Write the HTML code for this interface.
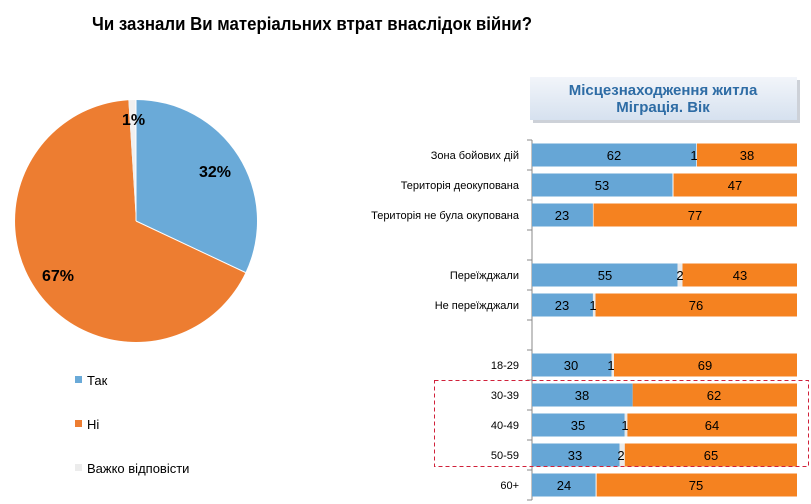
<!DOCTYPE html>
<html><head><meta charset="utf-8"><style>
body{margin:0;background:#fff;}
svg{display:block;font-family:"Liberation Sans",sans-serif;}
</style></head><body>
<svg width="811" height="504" viewBox="0 0 811 504" xmlns="http://www.w3.org/2000/svg">
<defs>
<linearGradient id="g" x1="0" y1="0" x2="0" y2="1"><stop offset="0" stop-color="#f2f5fa"/><stop offset="1" stop-color="#d6e1ef"/></linearGradient>
</defs>
<text x="92" y="30" font-size="18" font-weight="bold" fill="#000" textLength="440" lengthAdjust="spacingAndGlyphs">Чи зазнали Ви матеріальних втрат внаслідок війни?</text>
<!-- pie -->
<path d="M136,221 L136,100 A121,121 0 0 1 245.5,272.5 Z" fill="#6aaad8"/>
<path d="M136,221 L245.5,272.5 A121,121 0 1 1 128.4,100.2 Z" fill="#ed7d31"/>
<path d="M136,221 L128.4,100.2 A121,121 0 0 1 136,100 Z" fill="#f0f0f0"/>
<line x1="136" y1="221" x2="136" y2="100" stroke="#fff" stroke-width="1"/>
<line x1="136" y1="221" x2="245.5" y2="272.5" stroke="#fff" stroke-width="1"/>
<text x="122" y="125" font-size="16" font-weight="bold">1%</text>
<text x="199" y="177" font-size="16" font-weight="bold">32%</text>
<text x="42" y="281" font-size="16" font-weight="bold">67%</text>
<!-- legend -->
<rect x="75" y="376" width="7" height="7" fill="#6aaad8"/><text x="87" y="385" font-size="13">Так</text>
<rect x="75" y="420" width="7" height="7" fill="#ed7d31"/><text x="87" y="429" font-size="13">Ні</text>
<rect x="75" y="464" width="7" height="7" fill="#ececec"/><text x="87" y="473" font-size="13">Важко відповісти</text>
<!-- title box -->
<rect x="533" y="80" width="267" height="43" fill="#b8bec8" opacity="0.7"/>
<rect x="530" y="77" width="267" height="43" fill="url(#g)"/>
<text x="663" y="95" font-size="15" font-weight="bold" fill="#2e6ca5" text-anchor="middle">Місцезнаходження житла</text>
<text x="663" y="112" font-size="15" font-weight="bold" fill="#2e6ca5" text-anchor="middle">Міграція. Вік</text>
<!-- axis -->
<line x1="532" y1="140" x2="532" y2="500" stroke="#888" stroke-width="1"/>
<g stroke="#888"><line x1="527" y1="140" x2="532" y2="140"/><line x1="527" y1="170" x2="532" y2="170"/><line x1="527" y1="200" x2="532" y2="200"/><line x1="527" y1="230" x2="532" y2="230"/><line x1="527" y1="260" x2="532" y2="260"/><line x1="527" y1="290" x2="532" y2="290"/><line x1="527" y1="320" x2="532" y2="320"/><line x1="527" y1="350" x2="532" y2="350"/><line x1="527" y1="380" x2="532" y2="380"/><line x1="527" y1="410" x2="532" y2="410"/><line x1="527" y1="440" x2="532" y2="440"/><line x1="527" y1="470" x2="532" y2="470"/><line x1="527" y1="500" x2="532" y2="500"/></g>
<g font-size="11" fill="#000" text-anchor="end">
<text x="519" y="159">Зона бойових дій</text>
<text x="519" y="189">Територія деокупована</text>
<text x="519" y="219">Територія не була окупована</text>
<text x="519" y="279">Переїжджали</text>
<text x="519" y="309">Не переїжджали</text>
<text x="519" y="369">18-29</text>
<text x="519" y="399">30-39</text>
<text x="519" y="429">40-49</text>
<text x="519" y="459">50-59</text>
<text x="519" y="489">60+</text>
</g>
<g font-size="13" text-anchor="middle" fill="#000">
<rect x="532" y="143.5" width="164.3" height="23" fill="#66a6d6"/><rect x="696.3" y="143.5" width="2.7" height="23" fill="#eaeaea"/><rect x="697" y="143.5" width="100" height="23" fill="#f58220"/>
<text x="614" y="160">62</text><text x="694" y="160">1</text><text x="747" y="160">38</text>
<rect x="532" y="173.5" width="140.5" height="23" fill="#66a6d6"/><rect x="673.5" y="173.5" width="123.5" height="23" fill="#f58220"/>
<text x="602" y="190">53</text><text x="735" y="190">47</text>
<rect x="532" y="203.5" width="60.9" height="23" fill="#66a6d6"/><rect x="593.5" y="203.5" width="203.5" height="23" fill="#f58220"/>
<text x="562" y="220">23</text><text x="695" y="220">77</text>
<rect x="532" y="263.5" width="145.5" height="23" fill="#66a6d6"/><rect x="677.5" y="263.5" width="5" height="23" fill="#eaeaea"/><rect x="682.5" y="263.5" width="114.5" height="23" fill="#f58220"/>
<text x="605" y="280">55</text><text x="680" y="280">2</text><text x="740" y="280">43</text>
<rect x="532" y="293.5" width="60.9" height="23" fill="#66a6d6"/><rect x="593" y="293.5" width="2.5" height="23" fill="#eaeaea"/><rect x="595.5" y="293.5" width="201.5" height="23" fill="#f58220"/>
<text x="562" y="310">23</text><text x="593" y="310">1</text><text x="696" y="310">76</text>
<rect x="532" y="353.5" width="79.5" height="23" fill="#66a6d6"/><rect x="611.5" y="353.5" width="2.5" height="23" fill="#eaeaea"/><rect x="614" y="353.5" width="183" height="23" fill="#f58220"/>
<text x="571" y="370">30</text><text x="611" y="370">1</text><text x="705" y="370">69</text>
<rect x="532" y="383.5" width="100.7" height="23" fill="#66a6d6"/><rect x="632.7" y="383.5" width="164.3" height="23" fill="#f58220"/>
<text x="582" y="400">38</text><text x="714" y="400">62</text>
<rect x="532" y="413.5" width="92.7" height="23" fill="#66a6d6"/><rect x="624.7" y="413.5" width="2.7" height="23" fill="#eaeaea"/><rect x="627.4" y="413.5" width="169.6" height="23" fill="#f58220"/>
<text x="578" y="430">35</text><text x="625" y="430">1</text><text x="712" y="430">64</text>
<rect x="532" y="443.5" width="87.5" height="23" fill="#66a6d6"/><rect x="619.5" y="443.5" width="5.3" height="23" fill="#eaeaea"/><rect x="624.8" y="443.5" width="172.2" height="23" fill="#f58220"/>
<text x="575" y="460">33</text><text x="621" y="460">2</text><text x="711" y="460">65</text>
<rect x="532" y="473.5" width="63.6" height="23" fill="#66a6d6"/><rect x="596.6" y="473.5" width="200.4" height="23" fill="#f58220"/>
<text x="564" y="490">24</text><text x="696" y="490">75</text>
</g>
<rect x="434.5" y="380.5" width="374" height="86" fill="none" stroke="#d0203a" stroke-width="1" stroke-dasharray="4,3"/>
</svg>
</body></html>
